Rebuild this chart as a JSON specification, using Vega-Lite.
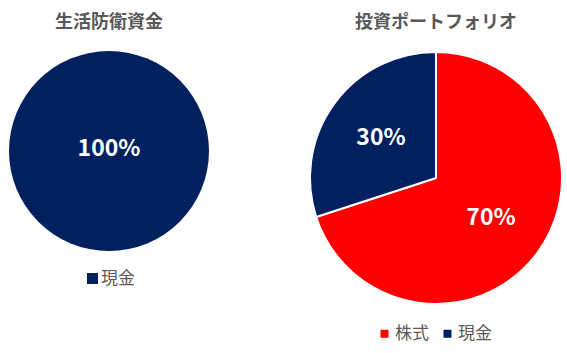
{
  "$schema": "https://vega.github.io/schema/vega-lite/v6.json",
  "padding": {"top": 14, "left": 0, "right": 0, "bottom": 30},
  "background": "white",
  "spacing": 88,
  "config": {
    "view": {"stroke": null},
    "font": "Noto Sans CJK JP",
    "title": {"fontSize": 18, "fontWeight": "bold", "color": "#595959", "anchor": "middle", "font": "Noto Sans CJK JP"},
    "legend": {"labelFont": "Noto Sans CJK JP", "labelFontSize": 17, "labelColor": "#595959", "symbolType": "square", "symbolStrokeWidth": 0, "title": null}
  },
  "resolve": {"scale": {"color": "independent", "theta": "independent"}, "legend": {"color": "independent"}},
  "hconcat": [
    {
      "title": "生活防衛資金",
      "width": 218,
      "height": 230,
      "data": {"values": [{"category": "現金", "value": 100, "label": "100%", "order": 1}]},
      "layer": [
        {
          "mark": {"type": "arc", "radius": 100},
          "encoding": {
            "theta": {"field": "value", "type": "quantitative", "stack": true},
            "order": {"field": "order", "type": "quantitative"},
            "color": {
              "field": "category", "type": "nominal",
              "scale": {"domain": ["現金"], "range": ["#002060"]},
              "legend": {"orient": "none", "legendX": 84, "legendY": 234, "direction": "horizontal", "symbolSize": 121, "labelOffset": 0, "title": null}
            }
          }
        },
        {
          "mark": {"type": "text", "radius": 0, "color": "white", "fontSize": 23, "fontWeight": "bold", "font": "Noto Sans CJK JP", "dy": -2},
          "encoding": {
            "theta": {"field": "value", "type": "quantitative", "stack": true},
            "order": {"field": "order", "type": "quantitative"},
            "text": {"field": "label", "type": "nominal"}
          }
        }
      ]
    },
    {
      "title": "投資ポートフォリオ",
      "width": 260,
      "height": 284,
      "data": {"values": [
        {"category": "株式", "value": 70, "label": "70%", "order": 1},
        {"category": "現金", "value": 30, "label": "30%", "order": 2}
      ]},
      "layer": [
        {
          "mark": {"type": "arc", "radius": 126, "stroke": "white", "strokeWidth": 2},
          "encoding": {
            "theta": {"field": "value", "type": "quantitative", "stack": true},
            "order": {"field": "order", "type": "quantitative"},
            "color": {
              "field": "category", "type": "nominal",
              "sort": ["株式", "現金"],
              "scale": {"domain": ["株式", "現金"], "range": ["#FF0000", "#002060"]},
              "legend": {"orient": "none", "legendX": 70, "legendY": 289, "direction": "horizontal", "symbolSize": 64, "labelOffset": 2, "columnPadding": 10, "title": null}
            }
          }
        },
        {
          "mark": {"type": "text", "radius": 68, "color": "white", "fontSize": 23, "fontWeight": "bold", "font": "Noto Sans CJK JP"},
          "encoding": {
            "theta": {"field": "value", "type": "quantitative", "stack": true},
            "order": {"field": "order", "type": "quantitative"},
            "text": {"field": "label", "type": "nominal"}
          }
        }
      ]
    }
  ]
}
